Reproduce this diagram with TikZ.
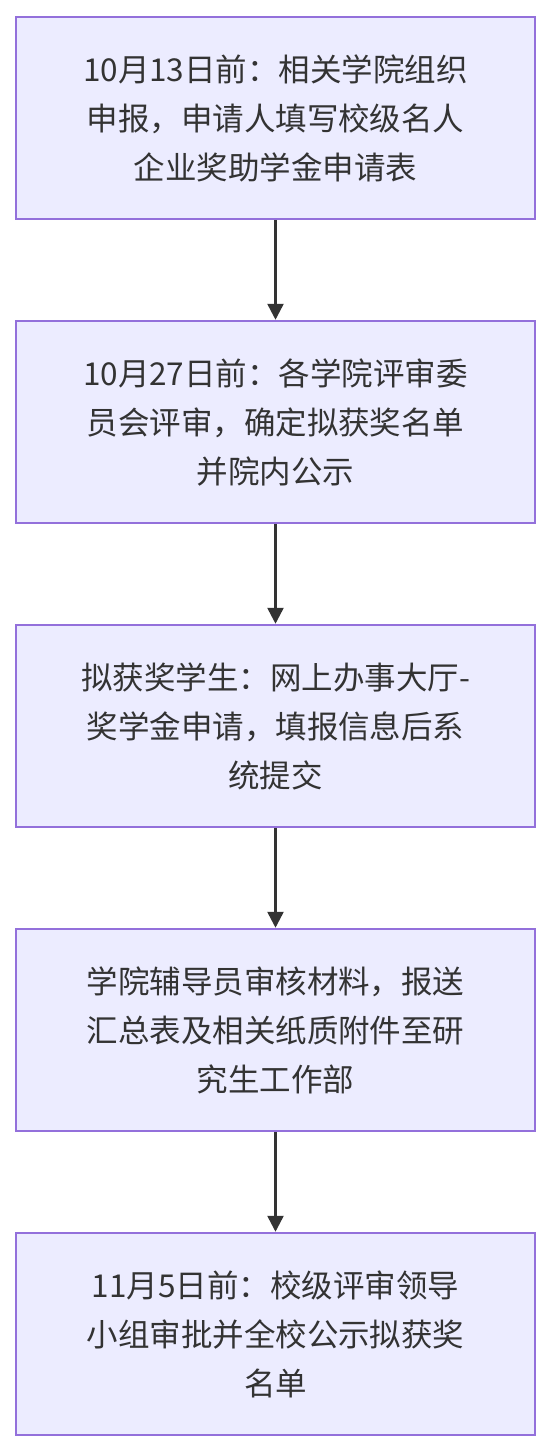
\documentclass[tikz,border=0pt]{standalone}
\usepackage{fontspec}
\setmainfont{Noto Sans CJK SC}
\usetikzlibrary{arrows.meta}
\definecolor{boxfill}{HTML}{ECECFF}
\definecolor{boxborder}{HTML}{9370DB}
\definecolor{textc}{HTML}{333333}
\begin{document}
\begin{tikzpicture}[x=1pt,y=-1pt,
  box/.style={draw=boxborder, fill=boxfill, line width=2.5pt,
    minimum width=519pt, minimum height=202pt, inner sep=0pt,
    align=center, text=textc, font=\fontsize{31.5pt}{49pt}\selectfont},
  arr/.style={-{Triangle[length=16pt,width=16pt]}, line width=2.5pt, draw=textc}]
\useasboundingbox (0,0) rectangle (552,1452);
\node[box] (a) at (275.5,118) {10月13日前：相关学院组织\\申报，申请人填写校级名人\\企业奖助学金申请表};
\node[box] (b) at (275.5,422) {10月27日前：各学院评审委\\员会评审，确定拟获奖名单\\并院内公示};
\node[box] (c) at (275.5,726) {拟获奖学生：网上办事大厅-\\奖学金申请，填报信息后系\\统提交};
\node[box] (d) at (275.5,1030) {学院辅导员审核材料，报送\\汇总表及相关纸质附件至研\\究生工作部};
\node[box] (e) at (275.5,1334) {11月5日前：校级评审领导\\小组审批并全校公示拟获奖\\名单};
\draw[arr] (a) -- (b);
\draw[arr] (b) -- (c);
\draw[arr] (c) -- (d);
\draw[arr] (d) -- (e);
\end{tikzpicture}
\end{document}
